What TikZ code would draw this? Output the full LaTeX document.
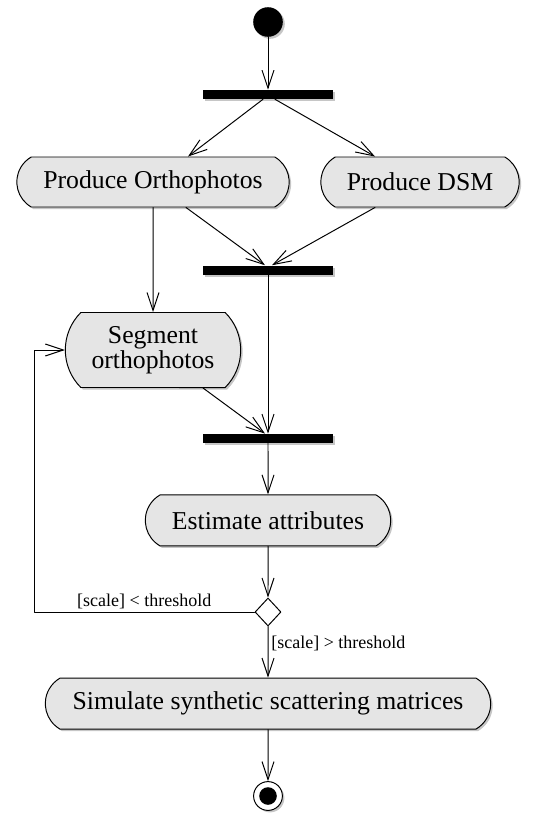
\documentclass[tikz,border=0pt]{standalone}
\usepackage{fontspec}
\setmainfont{Liberation Serif}
\usepackage{tikz}
\usetikzlibrary{positioning,shapes.misc,shapes.geometric,shadows,arrows.meta}

\begin{document}
\begin{tikzpicture}[
    action/.style = {
        rounded rectangle,
        rounded rectangle arc length=120,
        draw=black,
        line width=0.7pt,
        fill=black!10,
        minimum height=1.25cm,
        inner sep=2pt,
        align=center,
        font=\fontsize{18.3}{16.5}\selectfont,
        drop shadow={shadow xshift=0.05cm, shadow yshift=-0.05cm, opacity=0.45}
    },
    bar/.style = {
        rectangle,
        fill=black,
        minimum width=3.25cm,
        minimum height=0.225cm,
        inner sep=0pt,
        drop shadow={shadow xshift=0.05cm, shadow yshift=-0.05cm, opacity=0.45}
    },
    initial/.style  = {circle, fill=black, minimum size=0.74cm, inner sep=0pt,
        drop shadow={shadow xshift=0.05cm, shadow yshift=-0.05cm, opacity=0.45}},
    final/.style    = {circle, draw=black, line width=0.7pt, fill=white, minimum size=0.72cm, inner sep=0pt,
        path picture={\fill[black] (path picture bounding box.center) circle (0.22cm);},
        drop shadow={shadow xshift=0.05cm, shadow yshift=-0.05cm, opacity=0.45}},
    decision/.style = {diamond, draw=black, line width=0.7pt, fill=white, minimum width=0.65cm, minimum height=0.7cm, inner sep=0pt},
    guard/.style    = {font=\fontsize{12.8}{14}\selectfont, inner sep=2pt},
    arrow/.style    = {-{Straight Barb[length=0.45cm, width=0.3cm]}, line width=0.7pt, draw=black},
    line cap=round, line join=round
]

\useasboundingbox (0,0) rectangle (13.4,-20.35);

% Define spacing
\def\midx{6.7}
\def\leftx{3.825}

% Start and fork
\node[initial] (start) at (\midx,-0.55) {};
\node[bar] (fork) at (\midx,-2.3625) {};

% Row 1: parallel actions
\node[action, minimum width=6.95cm] (ortho) at (\leftx,-4.55) {Produce Orthophotos};
\node[action, minimum width=5.1cm]  (dsm)   at (10.5,-4.55)   {Produce DSM};

% Joins and segmentation
\node[bar] (joina) at (\midx,-6.75) {};
\node[action, minimum width=4.525cm, minimum height=1.875cm, rounded rectangle arc length=90]
    (segment) at (\leftx,-8.75) {Segment\\orthophotos};
\node[bar] (joinb) at (\midx,-10.96) {};

% Estimation and decision
\node[action, minimum width=6.275cm, minimum height=1.275cm] (estimate) at (\midx,-13.01) {Estimate attributes};
\node[decision] (decide) at (\midx,-15.3) {};
\coordinate (loop) at (0.85,-15.3);

% Simulation and end
\node[action, minimum width=11.275cm, minimum height=1.275cm] (simulate) at (\midx,-17.59) {Simulate synthetic scattering matrices};
\node[final] (stop) at (\midx,-19.9) {};

% Arrows - fork
\draw[arrow] (start) -- (fork);
\draw[arrow] ([xshift=-0.125cm]fork.south) -- ([xshift=0.875cm]ortho.north);
\draw[arrow] ([xshift=0.175cm]fork.south) -- ([xshift=-1.125cm]dsm.north);

% Arrows - into first join
\draw[arrow] ([xshift=0.825cm]ortho.south) -- ([xshift=-0.075cm]joina.north);
\draw[arrow] ([xshift=-1.125cm]dsm.south) -- ([xshift=0.1cm]joina.north);
\draw[arrow] (ortho) -- (segment);

% Arrows - into second join
\draw[arrow] (joina) -- (joinb);
\draw[arrow] ([xshift=1.25cm]segment.south) -- ([xshift=-0.075cm]joinb.north);
\draw[arrow] (joinb) -- (estimate);
\draw[arrow] (estimate) -- (decide);

% Loop back and exit
\draw[arrow] (decide.west) -- node[guard, above] {[scale] < threshold} (loop) |- (segment.west);
\draw[arrow] (decide) -- node[guard, right, pos=0.33] {[scale] > threshold} (simulate);
\draw[arrow] (simulate) -- (stop);

\end{tikzpicture}
\end{document}
